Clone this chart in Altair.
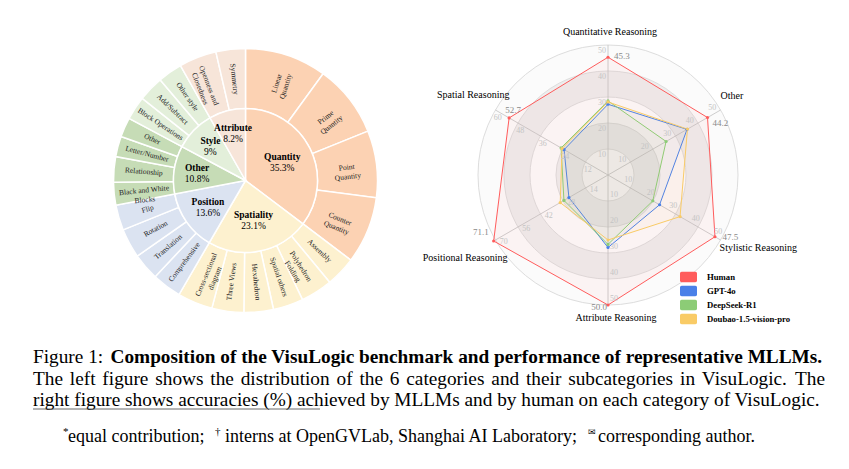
import altair as alt
import pandas as pd

SERIF = "Liberation Serif"

# ---------------- sunburst data ----------------
categories = ["Quantity", "Spatiality", "Position", "Other", "Style", "Attribute"]
category_share = [35.3, 23.1, 13.6, 10.8, 9.0, 8.2]
category_label = ["35.3%", "23.1%", "13.6%", "10.8%", "9%", "8.2%"]
category_colors = ["#fcd2b3", "#fdf1cf", "#dbe3f1", "#c6dcb6", "#e3efda", "#f7e5d9"]

sub_names = ["Linear\nQuantity", "Prime\nQuantity", "Point\nQuantity", "Counter\nQuantity",
             "Assembly", "Polyhedron\nFolding", "Spatial others", "Hexahedron", "Three Views",
             "Cross-sectional\ndiagram",
             "Comprehensive", "Translation", "Rotation", "Flip",
             "Black and White\nBlocks", "Relationship", "Letter/Number", "Other",
             "Block Operations", "Add/Subtract", "Other style",
             "Openness and\nClosedness", "Symmetry"]
sub_parent = ["Quantity"] * 4 + ["Spatiality"] * 6 + ["Position"] * 4 + ["Other"] * 4 + ["Style"] * 3 + ["Attribute"] * 2
sub_share = [10.0, 8.9, 8.2, 8.2,
             3.7, 3.9, 3.7, 3.6, 3.9, 4.3,
             3.6, 3.3, 3.6, 3.1,
             2.8, 3.1, 2.5, 2.4,
             2.9, 3.1, 3.0,
             4.6, 3.6]

# ---------------- radar data ----------------
axes_names = ["Quantitative Reasoning", "Other", "Stylistic Reasoning", "Attribute Reasoning",
              "Positional Reasoning", "Spatial Reasoning"]
axis_max = [50, 50, 50, 50, 70, 60]
models = ["Human", "GPT-4o", "DeepSeek-R1", "Doubao-1.5-vision-pro"]
human = [45.3, 44.2, 47.5, 50.0, 71.1, 52.7]
gpt4o = [27.2, 35.1, 22.9, 27.9, 24.3, 23.4]
deepseek = [28.5, 25.8, 19.9, 26.7, 27.4, 25.0]
doubao = [28.1, 35.3, 32.0, 25.0, 29.7, 24.5]
model_colors = ["#ff5c5c", "#4a80e8", "#8ccc76", "#f9cb66"]
split_number = 5

# ---------------- caption text ----------------
caption_lead = "Figure 1:"
caption_bold = "Composition of the VisuLogic benchmark and performance of representative MLLMs."
caption_line2 = "The left figure shows the distribution of the 6 categories and their subcategories in VisuLogic. The"
caption_line3 = "right figure shows accuracies (%) achieved by MLLMs and by human on each category of VisuLogic."
foot_parts = ["equal contribution;", "interns at OpenGVLab, Shanghai AI Laboratory;", "corresponding author."]
foot_marks = ["*", "\u2020", "\u2709"]

# Times-compatible advance widths (per 1000 em) used only to justify caption line 2
_W = {" ": 250, ".": 250, ",": 250, "6": 500,
      "a": 444, "b": 500, "c": 444, "d": 500, "e": 444, "f": 333, "g": 500, "h": 500, "i": 278,
      "j": 278, "k": 500, "l": 278, "m": 778, "n": 500, "o": 500, "p": 500, "q": 500, "r": 333,
      "s": 389, "t": 278, "u": 500, "v": 500, "w": 722, "x": 500, "y": 500, "z": 444,
      "T": 611, "V": 722, "L": 611}


def text_width(s, size):
    return sum(_W.get(ch, 500) for ch in s) / 1000.0 * size


CAP_SIZE = 19.3
line2_words = caption_line2.split(" ")
_ws = [text_width(w, CAP_SIZE) for w in line2_words]
_x0, _x1 = 25.0, 817.0
_gap = (_x1 - _x0 - sum(_ws)) / (len(line2_words) - 1)
_pos, _cur = [], _x0
for w in _ws:
    _pos.append(_cur)
    _cur += w + _gap
line2_df = pd.DataFrame({"w": line2_words, "px": _pos})

# ================= sunburst =================
cat_df = pd.DataFrame({"cat": categories, "share": category_share,
                       "pct": category_label, "idx": list(range(len(categories)))})
sub_df = pd.DataFrame({"name": sub_names, "parent": sub_parent, "share": sub_share,
                       "idx": list(range(len(sub_names)))})

cscale = alt.Scale(domain=categories, range=category_colors)
theta = alt.Theta("share:Q", stack=True)
order = alt.Order("idx:Q")

inner_arc = alt.Chart(cat_df).mark_arc(radius=72, stroke="white", strokeWidth=1.5).encode(
    theta=theta, order=order, color=alt.Color("cat:N", scale=cscale, legend=None))
outer_arc = alt.Chart(sub_df).mark_arc(radius=132, radius2=72, stroke="white", strokeWidth=1.5).encode(
    theta=theta, order=order, color=alt.Color("parent:N", scale=cscale, legend=None))

# category labels: placed at each slice's middle angle; smaller slices sit a bit further out
cat_label_layers = []
for lo, hi, r in [(20, 1000, 41), (12, 20, 46), (0, 12, 49)]:
    base = (alt.Chart(cat_df)
            .transform_window(cum="sum(share)", sort=[alt.SortField("idx")])
            .transform_calculate(mid="datum.cum - datum.share / 2")
            .transform_filter((alt.datum.share >= lo) & (alt.datum.share < hi)))
    cat_label_layers.append(
        base.mark_text(radius=r, font=SERIF, fontSize=9.5, fontWeight="bold", dy=-5.5, color="black")
        .encode(theta=alt.Theta("mid:Q", stack=None), text="cat:N"))
    cat_label_layers.append(
        base.mark_text(radius=r, font=SERIF, fontSize=9.5, dy=5.5, color="black")
        .encode(theta=alt.Theta("mid:Q", stack=None), text="pct:N"))

sub_text = (alt.Chart(sub_df)
            .transform_window(cum="sum(share)", sort=[alt.SortField("idx")])
            .transform_joinaggregate(tot="sum(share)")
            .transform_calculate(deg="(datum.cum - datum.share / 2) / datum.tot * 360")
            .transform_calculate(ang="(datum.deg < 180 ? datum.deg - 90 : datum.deg - 270) + 360")
            .transform_calculate(ang2="datum.ang % 360")
            .mark_text(radius=102, font=SERIF, fontSize=7.5, lineBreak="\n", color="#222",
                       align="center", baseline="middle")
            .encode(theta=theta, order=order, text="name:N",
                    angle=alt.Angle("ang2:Q", scale=None)))

# ================= caption (drawn in the left panel's frame) =================
cap_df = pd.DataFrame({"a": [0]})


def cap(txt, x, y, size=CAP_SIZE, weight="normal", font=SERIF):
    return alt.Chart(cap_df).mark_text(align="left", baseline="middle", font=font, fontSize=size,
                                       fontWeight=weight, color="black").encode(
        x=alt.value(x), y=alt.value(y), text=alt.value(txt))


line2 = alt.Chart(line2_df).mark_text(align="left", baseline="middle", font=SERIF, fontSize=CAP_SIZE,
                                      color="black").encode(
    x=alt.X("px:Q", scale=None), y=alt.value(370.5), text="w:N")

cap_layers = [
    cap(caption_lead, 25, 349),
    cap(caption_bold, 102.5, 349, weight="bold"),
    line2,
    cap(caption_line3, 25, 392),
    cap(foot_marks[0], 55, 424, size=11),
    cap(foot_parts[0], 60, 429, size=18),
    cap(foot_marks[1], 207, 424, size=11),
    cap(foot_parts[1], 217, 429, size=18),
    cap(foot_marks[2], 580, 424, size=9, font="DejaVu Sans"),
    cap(foot_parts[2], 590, 429, size=18),
]
underline = alt.Chart(cap_df).mark_rule(color="#444", strokeWidth=0.8).encode(
    x=alt.value(25), x2=alt.value(312), y=alt.value(401))

left = alt.layer(outer_arc, inner_arc, sub_text, *cat_label_layers, *cap_layers, underline).properties(
    width=475, height=345)

# ================= radar =================
U = 130.0  # pixels per unit radius
RW, RH = 250, 334
xs = alt.Scale(domain=[-RW / 2 / U, RW / 2 / U], nice=False, zero=False)
ys = alt.Scale(domain=[-RH / 2 / U, RH / 2 / U], nice=False, zero=False)


def X(f):
    return alt.X(f"{f}:Q", scale=xs, axis=None)


def Y(f):
    return alt.Y(f"{f}:Q", scale=ys, axis=None)


ANG = "(90 - 60 * datum.i) * PI / 180"

rows = []
for m, vals in zip(models, [human, gpt4o, deepseek, doubao]):
    for i, (a, v, mx) in enumerate(zip(axes_names, vals, axis_max)):
        rows.append({"model": m, "axis": a, "i": i, "value": v, "max": mx})
radar_df = pd.DataFrame(rows)

axis_df = pd.DataFrame({"axis": axes_names, "i": list(range(len(axes_names))), "max": axis_max})
ring_df = pd.DataFrame({"k": list(range(split_number, 0, -1))})
tick_rows = []
for i, mx in enumerate(axis_max):
    for k in range(1, split_number + 1):
        tick_rows.append({"i": i, "k": k, "tv": mx * k / split_number})
tick_df = pd.DataFrame(tick_rows)

rings_fill = (alt.Chart(ring_df)
              .transform_calculate(z="0", s=f"pow(2 * {U} * datum.k / {split_number}, 2)",
                                   shade="datum.k % 2 == 1 ? '#fbfbfb' : '#eeeeee'")
              .mark_point(filled=True, opacity=1, strokeWidth=0, shape="circle")
              .encode(x=X("z"), y=Y("z"), size=alt.Size("s:Q", scale=None),
                      fill=alt.Fill("shade:N", scale=None),
                      order=alt.Order("k:Q", sort="descending")))
rings_line = (alt.Chart(ring_df)
              .transform_calculate(z="0", s=f"pow(2 * {U} * datum.k / {split_number}, 2)")
              .mark_point(filled=False, opacity=1, stroke="#dddddd", strokeWidth=1, shape="circle")
              .encode(x=X("z"), y=Y("z"), size=alt.Size("s:Q", scale=None)))
spokes = (alt.Chart(axis_df)
          .transform_calculate(a=ANG)
          .transform_calculate(z="0", ex="cos(datum.a)", ey="sin(datum.a)")
          .mark_rule(color="#c2c2c2", strokeWidth=0.8)
          .encode(x=X("z"), y=Y("z"), x2="ex:Q", y2="ey:Q"))

polys = []
for m, c in zip(models, model_colors):
    polys.append(
        alt.Chart(radar_df)
        .transform_filter(alt.datum.model == m)
        .transform_calculate(a=ANG)
        .transform_calculate(px="datum.value / datum.max * cos(datum.a)",
                             py="datum.value / datum.max * sin(datum.a)")
        .mark_line(interpolate="linear-closed", fill=c, fillOpacity=0.05, stroke=c, strokeWidth=1)
        .encode(x=X("px"), y=Y("py"), order=alt.Order("i:Q")))

rounded = ("M-0.8,-0.62H0.8A0.2,0.2 0 0 1 1,-0.42V0.42A0.2,0.2 0 0 1 0.8,0.62"
           "H-0.8A0.2,0.2 0 0 1 -1,0.42V-0.42A0.2,0.2 0 0 1 -0.8,-0.62Z")
points = (alt.Chart(radar_df)
          .transform_calculate(a=ANG)
          .transform_calculate(px="datum.value / datum.max * cos(datum.a)",
                               py="datum.value / datum.max * sin(datum.a)")
          .mark_point(filled=True, size=10, opacity=1)
          .encode(x=X("px"), y=Y("py"),
                  color=alt.Color("model:N", scale=alt.Scale(domain=models, range=model_colors),
                                  legend=alt.Legend(title=None, orient="none", legendX=197, legendY=260.5,
                                                    symbolType=rounded, symbolSize=289,
                                                    symbolStrokeWidth=0, symbolOpacity=1,
                                                    labelFont=SERIF, labelFontWeight="bold",
                                                    labelFontSize=8.7, labelColor="black",
                                                    rowPadding=-0.8, labelOffset=10))))

ticks = (alt.Chart(tick_df)
         .transform_calculate(a=ANG)
         .transform_calculate(
             px=f"datum.k / {split_number} * cos(datum.a) + {8.6 / U} * cos(datum.a + 3 * PI / 4)",
             py=f"datum.k / {split_number} * sin(datum.a) + {8.6 / U} * sin(datum.a + 3 * PI / 4)")
         .mark_text(font=SERIF, fontSize=8, color="#c4c4c4", align="center", baseline="middle")
         .encode(x=X("px"), y=Y("py"), text=alt.Text("tv:Q", format="d")))

# per-axis label styles (align, dx, dy)
name_style = [("center", 2, -13), ("left", 0, -14), ("left", -1, 8),
              ("center", 8, 13), ("right", 12, 18), ("right", 14, -15)]
value_style = [("left", 6, -1), ("left", 5, 5), ("left", 7.5, 0.5),
               ("right", -1, 2), ("right", -5, -9), ("center", 4, -8)]

name_layers = []
for i, (al, dx, dy) in enumerate(name_style):
    name_layers.append(
        alt.Chart(axis_df)
        .transform_filter(alt.datum.i == i)
        .transform_calculate(a=ANG)
        .transform_calculate(px="cos(datum.a)", py="sin(datum.a)")
        .mark_text(font=SERIF, fontSize=10, color="black", align=al, baseline="middle", dx=dx, dy=dy)
        .encode(x=X("px"), y=Y("py"), text="axis:N"))

value_layers = []
for i, (al, dx, dy) in enumerate(value_style):
    value_layers.append(
        alt.Chart(radar_df)
        .transform_filter((alt.datum.model == models[0]) & (alt.datum.i == i))
        .transform_calculate(a=ANG)
        .transform_calculate(px="datum.value / datum.max * cos(datum.a)",
                             py="datum.value / datum.max * sin(datum.a)")
        .mark_text(font=SERIF, fontSize=9, color="#8a8a8a", align=al, baseline="middle", dx=dx, dy=dy)
        .encode(x=X("px"), y=Y("py"), text=alt.Text("value:Q", format=".1f")))

radar = alt.layer(rings_fill, rings_line, spokes, *polys, points, ticks,
                  *value_layers, *name_layers).properties(width=RW, height=RH)

chart = (alt.hconcat(left, radar, spacing=0, bounds="flush")
         .resolve_scale(color="independent")
         .resolve_legend(color="independent")
         .properties(padding=0)
         .configure_view(stroke=None))

chart.save("out.html", embed_options={"renderer": "svg", "actions": False})
